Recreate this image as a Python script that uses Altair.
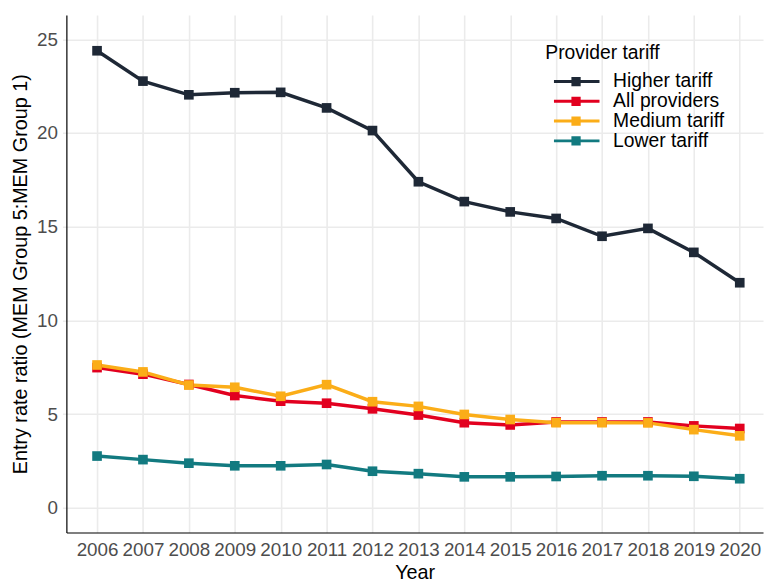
import altair as alt
import pandas as pd

years = list(range(2006, 2021))
higher = [24.39, 22.77, 22.04, 22.15, 22.17, 21.34, 20.13, 17.40, 16.34, 15.79, 15.44, 14.49, 14.91, 13.63, 12.01]
all_prov = [7.48, 7.13, 6.58, 5.99, 5.69, 5.58, 5.28, 4.95, 4.54, 4.42, 4.58, 4.58, 4.58, 4.37, 4.23]
medium = [7.62, 7.25, 6.55, 6.43, 5.95, 6.57, 5.66, 5.41, 4.98, 4.71, 4.54, 4.54, 4.53, 4.17, 3.84]
lower = [2.76, 2.57, 2.38, 2.24, 2.24, 2.31, 1.95, 1.82, 1.65, 1.65, 1.67, 1.71, 1.71, 1.68, 1.55]

series_names = ["Higher tariff", "All providers", "Medium tariff", "Lower tariff"]
series_vals = [higher, all_prov, medium, lower]
colors = ["#1e2836", "#e2001f", "#fbad18", "#127a80"]

rows = []
for name, vals in zip(series_names, series_vals):
    for yr, v in zip(years, vals):
        rows.append({"Year": yr, "value": v, "Provider tariff": name})
df = pd.DataFrame(rows)

FONT = "Liberation Sans"

legend_path = "M-0.17,0H7.5M3.02,-0.53H4.08V0.53H3.02Z"

color = alt.Color(
    "Provider tariff:N",
    scale=alt.Scale(domain=series_names, range=colors),
    sort=series_names,
    legend=alt.Legend(
        orient="none",
        legendX=484,
        legendY=30,
        padding=0,
        title="Provider tariff",
        titleFont=FONT,
        titleFontSize=19.5,
        titleFontWeight="normal",
        titleColor="black",
        titlePadding=8,
        labelFont=FONT,
        labelFontSize=19.5,
        labelColor="black",
        labelOffset=49,
        rowPadding=-9,
        symbolType=legend_path,
        symbolSize=144,
        symbolStrokeWidth=3,
        symbolOpacity=1,
    ),
)

x = alt.X(
    "Year:Q",
    scale=alt.Scale(domain=[2005.332, 2020.507], nice=False, zero=False),
    axis=alt.Axis(
        values=years,
        format="d",
        title="Year",
        ticks=False,
        labelPadding=8,
        titlePadding=3,
        labelFlush=False,
        labelOverlap=False,
    ),
)
y = alt.Y(
    "value:Q",
    scale=alt.Scale(domain=[-1.32, 26.30], nice=False, zero=False),
    axis=alt.Axis(
        values=[0, 5, 10, 15, 20, 25],
        title="Entry rate ratio (MEM Group 5:MEM Group 1)",
        ticks=True,
        tickSize=4,
        tickColor="#ebebeb",
        tickWidth=1.5,
        labelPadding=5,
        titlePadding=6,
    ),
)

base = alt.Chart(df).encode(x=x, y=y, color=color)
lines = base.mark_line(strokeWidth=3.5)
points = base.mark_point(shape="square", filled=True, size=95, opacity=1)

chart = (
    alt.layer(lines, points)
    .properties(
        width=704,
        height=523,
        autosize=alt.AutoSizeParams(type="none"),
        padding={"left": 59, "top": 4, "right": 2, "bottom": 49},
    )
    .configure_view(stroke=None)
    .configure_axis(
        labelFont=FONT,
        labelFontSize=19,
        labelColor="#4d4d4d",
        titleFont=FONT,
        titleFontSize=20,
        titleFontWeight="normal",
        titleColor="black",
        domainColor="black",
        domainWidth=1.2,
        gridColor="#ebebeb",
        gridWidth=1.6,
    )
)

chart.save("out.html", embed_options={"renderer": "svg", "actions": False})
